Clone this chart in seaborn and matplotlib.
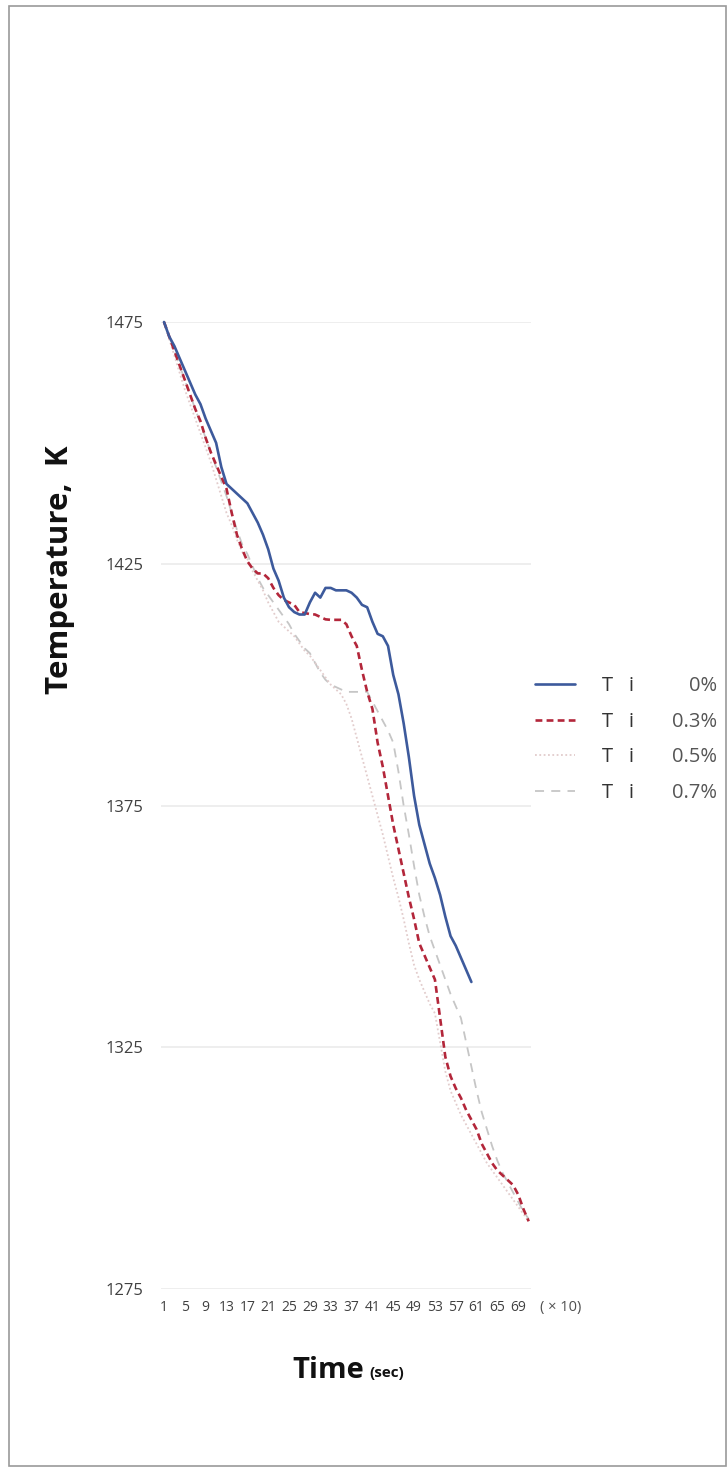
import numpy as np
import pandas as pd
import matplotlib
matplotlib.use("Agg")
import matplotlib.pyplot as plt
from matplotlib.patches import Rectangle
import seaborn as sns

# ---------------- data ----------------
time_idx_blue = list(range(1, 61))
temp_ti_0 = [1475, 1472, 1470, 1467.5, 1465, 1462.5, 1460, 1458, 1455, 1452.5,
             1450, 1445, 1441.5, 1440.5, 1439.5, 1438.5, 1437.5, 1435.5, 1433.5, 1431,
             1428, 1424, 1421.5, 1418, 1416, 1415, 1414.5, 1414.5, 1417, 1419,
             1418, 1420, 1420, 1419.5, 1419.5, 1419.5, 1419, 1418, 1416.5, 1416,
             1413, 1410.5, 1410, 1408, 1402, 1398, 1392, 1385, 1377, 1371,
             1367, 1363, 1360, 1356.5, 1352, 1348, 1346, 1343.5, 1341, 1338.5]

time_idx = list(range(1, 72))
temp_ti_03 = [1475, 1472, 1469, 1466, 1463, 1460, 1457, 1454.5, 1451, 1448,
              1445.5, 1443, 1440.5, 1435.5, 1431, 1428, 1425.5, 1424, 1423, 1423,
              1422, 1420, 1418.5, 1417.5, 1417, 1416.5, 1415, 1414.8, 1414.6, 1414.5,
              1414, 1413.5, 1413.4, 1413.4, 1413.4, 1412.5, 1410, 1408, 1403, 1398.5,
              1395, 1388, 1383, 1377, 1371, 1366, 1361, 1356, 1351.5, 1346.5,
              1344, 1341.5, 1339, 1331, 1323, 1319, 1316.5, 1314.5, 1312, 1310,
              1308, 1305, 1303, 1301, 1299.5, 1298.5, 1297.5, 1296.5, 1294.5, 1291.5,
              1289]

temp_ti_05 = [1475, 1471.5, 1468, 1464.5, 1461, 1458, 1455, 1452, 1449, 1446,
              1442.5, 1439, 1435.5, 1433, 1430, 1427.5, 1426, 1423.5, 1421.5, 1419.5,
              1417, 1415, 1413, 1412, 1411, 1410, 1408.5, 1407, 1406, 1404.5,
              1403, 1401.5, 1400, 1399, 1398, 1396, 1393, 1389, 1385, 1381,
              1377, 1373, 1369, 1364.5, 1360, 1356, 1351.5, 1346.5, 1342, 1339,
              1336.5, 1334, 1332, 1326, 1320, 1316, 1313.5, 1311, 1309, 1307,
              1305, 1303, 1301, 1299.5, 1298, 1296.5, 1295, 1293.5, 1292, 1290.5,
              1289]

temp_ti_07 = [1475, 1472, 1469, 1466, 1463, 1460, 1457, 1454, 1451, 1448,
              1445, 1442, 1439, 1435.5, 1432, 1429, 1427, 1424.5, 1422, 1420,
              1418.5, 1417, 1415.5, 1414, 1412.5, 1410.5, 1409, 1407.5, 1406.5, 1404.5,
              1402.5, 1401, 1400, 1399.5, 1399, 1398.5, 1398.5, 1398.5, 1398.5, 1398.5,
              1396.5, 1394.5, 1392.5, 1390.5, 1388, 1382, 1375, 1369, 1362.5, 1356.5,
              1352, 1348, 1345, 1342, 1339, 1336, 1333.5, 1331, 1326, 1321,
              1316, 1311.5, 1308, 1304.5, 1301.5, 1299, 1297, 1295, 1293, 1291,
              1289.5]

series_names = ["T   i", "T   i", "T   i", "T   i"]
series_pct = ["0%", "0.3%", "0.5%", "0.7%"]
x_ticks = list(range(1, 70, 4))
y_ticks = [1275, 1325, 1375, 1425, 1475]

# ---------------- style ----------------
sns.set_style("white")
plt.rcParams["font.family"] = ["Open Sans", "DejaVu Sans"]

W, H = 728, 1470
fig = plt.figure(figsize=(W / 100, H / 100), dpi=100)
fig.patch.set_facecolor("white")

# outer frame like the scanned figure
fig.add_artist(Rectangle((9 / W, 1 - 1466 / H), (726 - 9) / W, (1466 - 6) / H,
                         transform=fig.transFigure, fill=False,
                         edgecolor="#9a9a9a", linewidth=1.2))

ax_l, ax_r, ax_t, ax_b = 161.4, 531.3, 322, 1289
ax = fig.add_axes([ax_l / W, 1 - ax_b / H, (ax_r - ax_l) / W, (ax_b - ax_t) / H])

styles = [
    dict(color="#3d5a9c", linewidth=1.9, linestyle="-"),
    dict(color="#b3263a", linewidth=1.9, linestyle=(0, (2.6, 1.6))),
    dict(color="#e2cccc", linewidth=1.3, linestyle=(0, (1, 1.4))),
    dict(color="#c6c6c6", linewidth=1.3, linestyle=(0, (5, 4))),
]
xs = [time_idx_blue, time_idx, time_idx, time_idx]
ys = [temp_ti_0, temp_ti_03, temp_ti_05, temp_ti_07]

# draw back-to-front (light ones first)
handles = [None] * 4
for k in [3, 2, 1, 0]:
    df = pd.DataFrame({"t": xs[k], "T": ys[k]})
    sns.lineplot(data=df, x="t", y="T", ax=ax, label=f"s{k}", **styles[k])
    handles[k] = ax.get_lines()[-1]
    handles[k].set_clip_on(False)

ax.set_xlim(0.5, 71.5)
ax.set_ylim(1275, 1475)
ax.set_xticks(x_ticks)
ax.set_xticklabels([str(v) for v in x_ticks], fontsize=10, color="#404040")
ax.set_yticks(y_ticks)
ax.set_yticklabels([str(v) for v in y_ticks], fontsize=12, color="#404040")
ax.tick_params(axis="both", length=0)
ax.tick_params(axis="x", pad=8)
ax.tick_params(axis="y", pad=13)
ax.grid(axis="y", color="#ebebeb", linewidth=1.2)
ax.grid(axis="x", visible=False)
for s in ax.spines.values():
    s.set_visible(False)
ax.set_xlabel("")
ax.set_ylabel("")

fig.text(561 / W, 1 - 1308 / H, "( × 10)", fontsize=10.5, color="#505050",
         ha="center", va="center")

# axis titles
fig.text(60 / W, 1 - 570 / H, "Temperature,  K", rotation=90, fontsize=22.5,
         fontweight="bold", color="#111111", ha="center", va="center")
fig.text(328 / W, 1 - 1370 / H, "Time", fontsize=21, fontweight="bold",
         color="#111111", ha="center", va="center")
fig.text(369 / W, 1 - 1373 / H, "(sec)", fontsize=11, fontweight="bold",
         color="#111111", ha="left", va="center")

# legend
leg = ax.legend(handles=handles, labels=series_names, frameon=False,
                loc="upper left", bbox_to_anchor=(535 / W, 1 - 676 / H),
                bbox_transform=fig.transFigure, fontsize=14.5,
                handlelength=2.0, handletextpad=1.35, labelspacing=0.78,
                borderpad=0, borderaxespad=0)
for t in leg.get_texts():
    t.set_color("#333333")

fig.canvas.draw()
inv = fig.transFigure.inverted()
for t, pct in zip(leg.get_texts(), series_pct):
    bb = t.get_window_extent()
    yc = inv.transform(((bb.x0 + bb.x1) / 2, (bb.y0 + bb.y1) / 2))[1]
    fig.text(717 / W, yc, pct, fontsize=14.5, color="#555555",
             ha="right", va="center")

fig.savefig("out.png", dpi=100, facecolor="white")
